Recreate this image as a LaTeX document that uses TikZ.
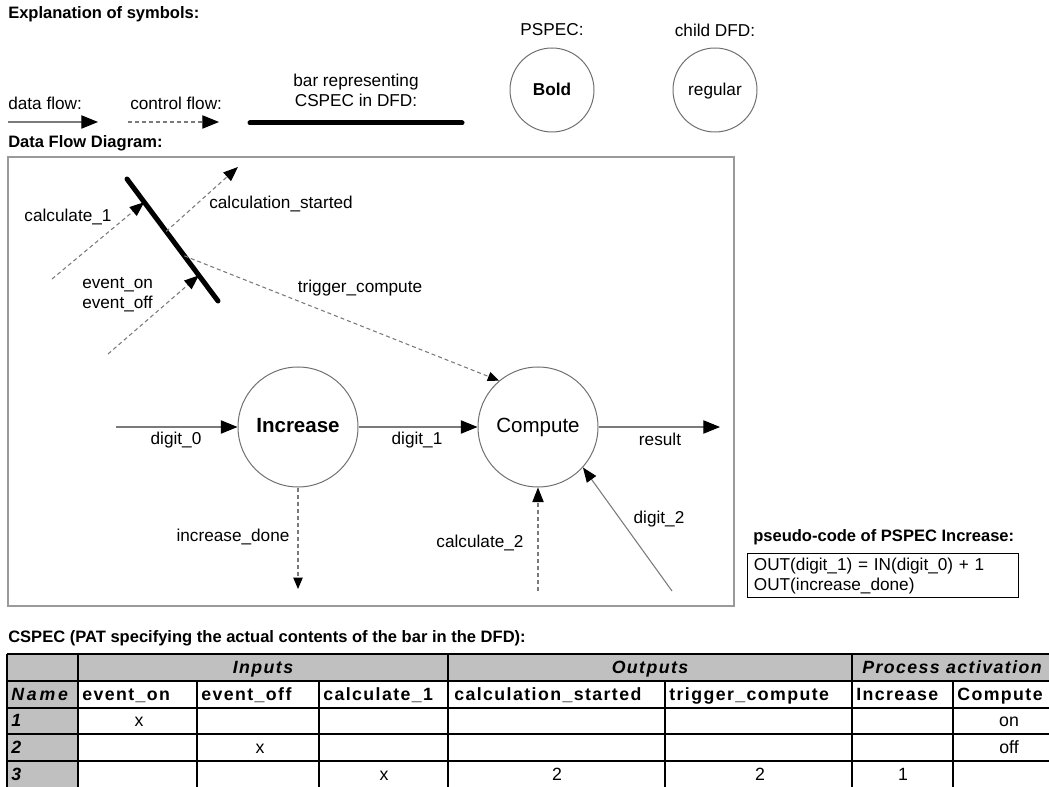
\documentclass[tikz,border=0pt]{standalone}
\usepackage{fontspec}
\setmainfont{Liberation Sans}
\newfontfamily\spacedfont[LetterSpace=8]{Liberation Sans}
\newfontfamily\widefont[LetterSpace=16]{Liberation Sans}
\usetikzlibrary{arrows.meta,calc}

\newcommand{\lblsz}{\fontsize{12.9pt}{15pt}\selectfont}
\newcommand{\headsz}{\fontsize{12.4pt}{15pt}\selectfont\bfseries}
\newcommand{\bubsz}{\fontsize{15.4pt}{18pt}\selectfont}
\newcommand{\tblsz}{\fontsize{13.3pt}{15pt}\selectfont}

\definecolor{flowgray}{HTML}{7A7A7A}
\definecolor{framegray}{HTML}{9A9A9A}
\definecolor{bubblegray}{HTML}{707070}
\definecolor{cellgray}{HTML}{C0C0C0}

\tikzset{
  heading/.style={inner sep=0pt, font=\headsz, anchor=west},
  lbl/.style={inner sep=0pt, font=\lblsz},
  bubble/.style={circle, draw=bubblegray, line width=0.75pt, inner sep=0pt,
                 text height=0.9em, text depth=0pt},
  flow/.style={draw=flowgray, line width=0.8pt},
  ctrl/.style={flow, dash pattern=on 3pt off 2.25pt},
  bigtip/.style={-{Triangle[length=12.5pt,width=10pt,color=black]}},
  midtip/.style={-{Triangle[length=11pt,width=8.5pt,color=black]}},
  smalltip/.style={-{Triangle[length=8.5pt,width=7pt,color=black]}},
  cspecbar/.style={draw=black, line width=3.75pt, line cap=round},
  tcell/.style={inner sep=0pt, font=\tblsz, text height=0.85em, text depth=0pt},
  thead/.style={tcell, font=\tblsz\spacedfont\bfseries},
  tital/.style={tcell, font=\tblsz\spacedfont\bfseries\itshape},
}

\begin{document}
\begin{tikzpicture}[x=0.75pt,y=-0.75pt]
\path[use as bounding box] (0,0) rectangle (1049,787);
\clip (0,0) rectangle (1049,787);

% ---------- legend ----------
\node[heading] (hExpl) at (8,14) {Explanation of symbols:};

\node[lbl, anchor=west] (lData) at (8,103) {data flow:};
\coordinate (dfA) at (8,122);
\coordinate (dfB) at (98,122);
\draw[flow, bigtip] (dfA) -- (dfB);

\node[lbl, anchor=west] (lCtrl) at (130,103) {control flow:};
\coordinate (cfA) at (128,122);
\coordinate (cfB) at (219,122);
\draw[ctrl, bigtip] (cfA) -- (cfB);

\node[lbl, align=center] (lBar) at (356,90) {bar representing\\CSPEC in DFD:};
\coordinate (lbA) at (250,123);
\coordinate (lbB) at (462,123);
\draw[cspecbar] (lbA) -- (lbB);

\node[lbl] (lPspec) at (552,30) {PSPEC:};
\node[bubble, minimum size=63pt, font=\lblsz\bfseries] (pspec) at (552,90) {Bold};
\node[lbl] (lChild) at (715,30) {child DFD:};
\node[bubble, minimum size=63pt, font=\lblsz] (child) at (715,90) {regular};

% ---------- data flow diagram ----------
\node[heading] (hDfd) at (8,143) {Data Flow Diagram:};
\draw[framegray, line width=1.1pt] (8,157) rectangle (734,606);

% CSPEC bar and its control flows
\coordinate (barA) at (127,179);
\coordinate (barB) at (218,301);
\draw[cspecbar] (barA) -- (barB);
\coordinate (barCalc) at ($(barA)!0.19!(barB)$);
\coordinate (barEvent) at ($(barA)!0.79!(barB)$);
\coordinate (barStart) at ($(barA)!0.43!(barB)$);
\coordinate (barTrig) at ($(barA)!0.63!(barB)$);

\coordinate (calcOneSrc) at (52,279);
\draw[ctrl, midtip] (calcOneSrc) -- (barCalc);
\node[lbl] (lCalcOne) at (68,217) {calculate\_1};

\coordinate (eventSrc) at (108,354);
\draw[ctrl, midtip] (eventSrc) -- (barEvent);
\node[lbl, anchor=west, align=left] (lEvent) at (82,295) {event\_on\\event\_off};

\coordinate (startDst) at (238,167);
\draw[ctrl, midtip] (barStart) -- (startDst);
\node[lbl] (lStart) at (281,204) {calculation\_started};

% processes
\node[bubble, minimum size=90pt, font=\bubsz\bfseries] (increase) at (298,427) {Increase};
\node[bubble, minimum size=90pt, font=\bubsz] (compute) at (538,427) {Compute};

\draw[ctrl, smalltip] (barTrig) -- (compute.130);
\node[lbl] (lTrig) at (360,288) {trigger\_compute};

\coordinate (digitZeroSrc) at (116,427);
\draw[flow, bigtip] (digitZeroSrc) -- (increase);
\node[lbl] (lDigitZero) at (176,440) {digit\_0};

\draw[flow, bigtip] (increase) -- (compute);
\node[lbl] (lDigitOne) at (417,440) {digit\_1};

\coordinate (resultDst) at (720,427);
\draw[flow, bigtip] (compute) -- (resultDst);
\node[lbl] (lResult) at (660,439) {result};

\coordinate (doneDst) at (298,589);
\draw[ctrl, smalltip] (increase) -- (doneDst);
\node[lbl] (lDone) at (233,537) {increase\_done};

\coordinate (calcTwoSrc) at (538,591);
\draw[ctrl, midtip] (calcTwoSrc) -- (compute);
\node[lbl] (lCalcTwo) at (480,543) {calculate\_2};

\coordinate (digitTwoSrc) at (672,591);
\draw[flow, midtip] (digitTwoSrc) -- (compute.-42);
\node[lbl] (lDigitTwo) at (659,519) {digit\_2};

% ---------- pseudo-code ----------
\node[heading] (hPseudo) at (753,537) {pseudo-code of PSPEC Increase:};
\node[draw=black, line width=1.1pt, anchor=north west, minimum width=203.25pt,
      minimum height=33pt, text width=194pt, inner xsep=4.5pt, inner ysep=0pt,
      align=left, font=\lblsz] (pseudo) at (747,553)
  {OUT(digit\_1) = IN(digit\_0) + 1\\OUT(increase\_done)};

% ---------- CSPEC table ----------
\node[heading] (hCspec) at (8,638) {CSPEC (PAT specifying the actual contents of the bar in the DFD):};

\fill[cellgray] (7,654) rectangle (1065,681);
\fill[cellgray] (7,681) rectangle (78,790);
\foreach \yy in {654,681,708,734,761,788}
  \draw[black, line width=1.3pt] (7,\yy) -- (1065,\yy);
\foreach \xx in {7,78,448,852}
  \draw[black, line width=1.3pt] (\xx,654) -- (\xx,790);
\foreach \xx in {197,319,665,953}
  \draw[black, line width=1.3pt] (\xx,681) -- (\xx,790);

\node[tital] (tInputs) at (263,667.5) {Inputs};
\node[tital] (tOutputs) at (650,667.5) {Outputs};
\node[tital] (tProc) at (952,667.5) {Process activation};

\node[tcell, anchor=west, font=\tblsz\widefont\bfseries\itshape] (tName) at (11,694.5) {Name};
\node[thead, anchor=west] (tEvOn) at (82,694.5) {event\_on};
\node[thead, anchor=west] (tEvOff) at (201,694.5) {event\_off};
\node[thead, anchor=west] (tCalcOne) at (323,694.5) {calculate\_1};
\node[thead, anchor=west] (tStarted) at (454,694.5) {calculation\_started};
\node[thead, anchor=west] (tTrig) at (669,694.5) {trigger\_compute};
\node[thead, anchor=west] (tInc) at (856,694.5) {Increase};
\node[thead, anchor=west] (tComp) at (957,694.5) {Compute};

\node[tital, anchor=west] (tRowOne) at (11,721) {1};
\node[tital, anchor=west] (tRowTwo) at (11,747.5) {2};
\node[tital, anchor=west] (tRowThree) at (11,774.5) {3};

\node[tcell] (vOneA) at (139,721) {x};
\node[tcell] (vOneB) at (1009,721) {on};
\node[tcell] (vTwoA) at (260,747.5) {x};
\node[tcell] (vTwoB) at (1009,747.5) {off};
\node[tcell] (vThreeA) at (384,774.5) {x};
\node[tcell] (vThreeB) at (557,774.5) {2};
\node[tcell] (vThreeC) at (760,774.5) {2};
\node[tcell] (vThreeD) at (903,774.5) {1};
\end{tikzpicture}
\end{document}
